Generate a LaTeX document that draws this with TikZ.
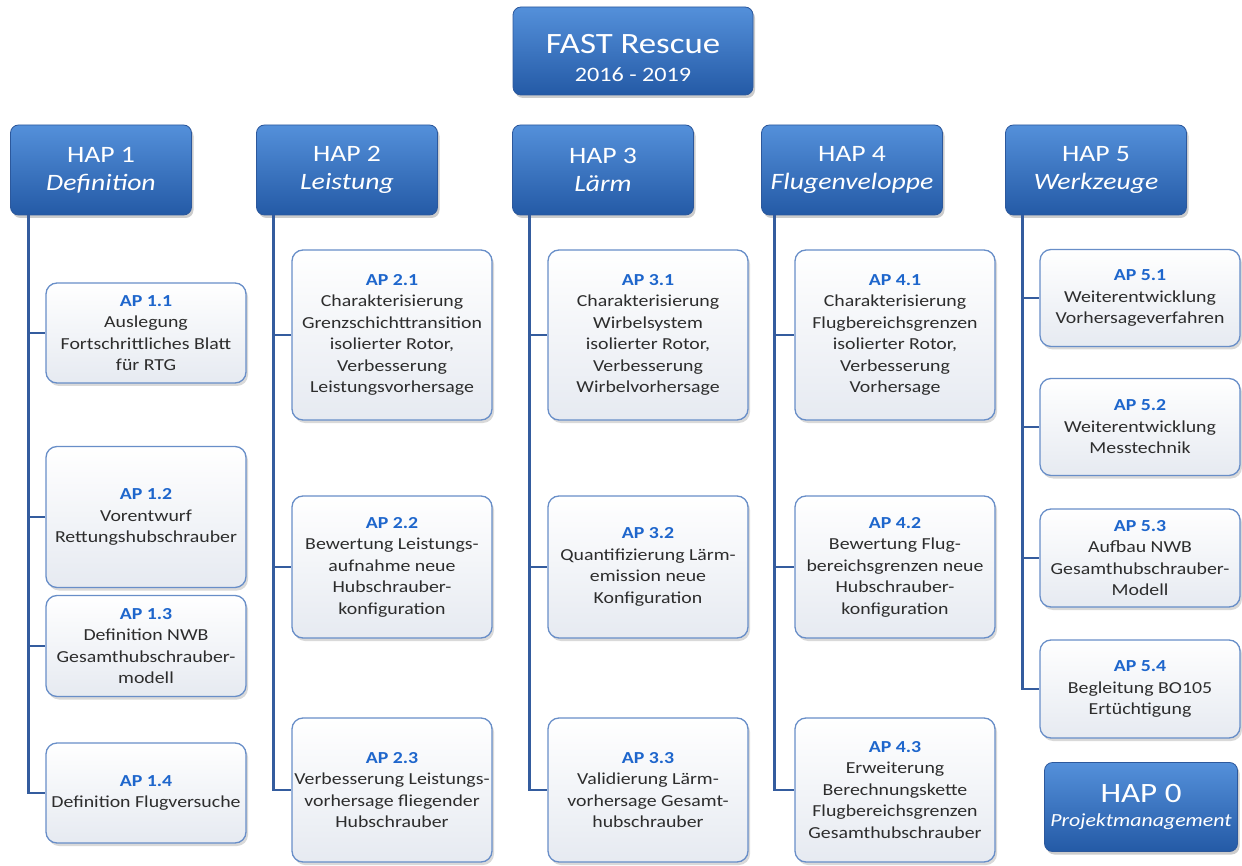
\documentclass[tikz,border=0pt]{standalone}
\usepackage{fontspec}
\setmainfont{Carlito}[FakeStretch=1.18]
\usetikzlibrary{shadows}

\definecolor{haptop}{RGB}{84,144,218}
\definecolor{hapbot}{RGB}{36,90,166}
\definecolor{hapedge}{RGB}{44,88,156}
\definecolor{apedge}{RGB}{104,142,200}
\definecolor{apfill}{RGB}{230,234,241}
\definecolor{aplabel}{RGB}{30,102,204}
\definecolor{aptext}{RGB}{45,45,45}
\definecolor{trunkblue}{RGB}{52,92,158}

\tikzset{
  hapbox/.style={rounded corners=8pt, draw=hapedge, line width=0.8pt,
    top color=haptop, bottom color=hapbot, text=white, align=center,
    minimum width=181pt, minimum height=90pt, inner sep=0pt,
    drop shadow={shadow xshift=2pt, shadow yshift=-3pt, opacity=0.4},
    font=\fontsize{23.5}{28}\selectfont},
  apbox/.style={rounded corners=11pt, draw=apedge, line width=1.3pt,
    top color=white, bottom color=apfill, text=aptext, align=center,
    minimum width=200pt, inner sep=0pt,
    drop shadow={shadow xshift=2pt, shadow yshift=-3pt, opacity=0.3},
    font=\fontsize{16.8}{21.5}\selectfont},
  link/.style={trunkblue, line width=2.8pt},
}
\newcommand{\aplab}[1]{\textbf{\textcolor{aplabel}{#1}}}

\begin{document}
\begin{tikzpicture}[x=1pt,y=-1pt]
  \useasboundingbox (0,0) rectangle (1242,866);

  % top and main work packages
  \node[hapbox, minimum width=240pt, minimum height=88pt, text height=66pt, text depth=5pt] (fast) at (633,51)
    {{\fontsize{29.5}{32}\selectfont FAST Rescue}\\{\fontsize{20.5}{32}\selectfont 2016 - 2019}};
  \node[hapbox] (hap1) at (101,170) {HAP 1\\\textit{Definition}};
  \node[hapbox] (hap2) at (347,170) {HAP 2\\\textit{Leistung}};
  \node[hapbox] (hap3) at (603,170) {HAP 3\\\textit{Lärm}};
  \node[hapbox] (hap4) at (852,170) {HAP 4\\\textit{Flugenveloppe}};
  \node[hapbox] (hap5) at (1096,170) {HAP 5\\\textit{Werkzeuge}};
  \node[hapbox, minimum width=193pt, minimum height=89pt, font=\fontsize{28}{24}\selectfont] (hap0) at (1141,807)
    {HAP 0\\{\fontsize{18.5}{24}\selectfont\textit{Projektmanagement}}};

  % work packages
  \foreach \n/\x/\y/\h/\lab/\txt in {
      ap11/146/333/100/1.1/{Auslegung\\Fortschrittliches Blatt\\für RTG},
      ap12/146/517/141/1.2/{Vorentwurf\\Rettungshubschrauber},
      ap13/146/646/101/1.3/{Definition NWB\\Gesamthubschrauber-\\modell},
      ap14/146/793/100/1.4/{Definition Flugversuche},
      ap21/392/335/170/2.1/{Charakterisierung\\Grenzschichttransition\\isolierter Rotor,\\Verbesserung\\Leistungsvorhersage},
      ap22/392/567/142/2.2/{Bewertung Leistungs-\\aufnahme neue\\Hubschrauber-\\konfiguration},
      ap23/392/790/144/2.3/{Verbesserung Leistungs-\\vorhersage fliegender\\Hubschrauber},
      ap31/648/335/170/3.1/{Charakterisierung\\Wirbelsystem\\isolierter Rotor,\\Verbesserung\\Wirbelvorhersage},
      ap32/648/567/142/3.2/{Quantifizierung Lärm-\\emission neue\\Konfiguration},
      ap33/648/790/144/3.3/{Validierung Lärm-\\vorhersage Gesamt-\\hubschrauber},
      ap41/895/335/170/4.1/{Charakterisierung\\Flugbereichsgrenzen\\isolierter Rotor,\\Verbesserung\\Vorhersage},
      ap42/895/567/142/4.2/{Bewertung Flug-\\bereichsgrenzen neue\\Hubschrauber-\\konfiguration},
      ap43/895/790/144/4.3/{Erweiterung\\Berechnungskette\\Flugbereichsgrenzen\\Gesamthubschrauber},
      ap51/1140/298/97/5.1/{Weiterentwicklung\\Vorhersageverfahren},
      ap52/1140/427/97/5.2/{Weiterentwicklung\\Messtechnik},
      ap53/1140/558/98/5.3/{Aufbau NWB\\Gesamthubschrauber-\\Modell},
      ap54/1140/689/98/5.4/{Begleitung BO105\\Ertüchtigung}}{
    \node[apbox, minimum height=\h pt] (\n) at (\x,\y) {\aplab{AP \lab}\\\txt};
  }

  % trunks and branches
  \foreach \i/\dx/\last in {1/18/ap14,2/17/ap23,3/17/ap33,4/13/ap43,5/17/ap54}{
    \coordinate (t\i) at ([xshift=\dx pt]hap\i.south west);
    \draw[link] (t\i) |- (\last.west);
  }
  \foreach \b/\i in {ap11/1,ap12/1,ap13/1,ap21/2,ap22/2,ap31/3,ap32/3,ap41/4,ap42/4,ap51/5,ap52/5,ap53/5}
    \draw[link] (t\i |- \b.west) -- (\b.west);
\end{tikzpicture}
\end{document}
